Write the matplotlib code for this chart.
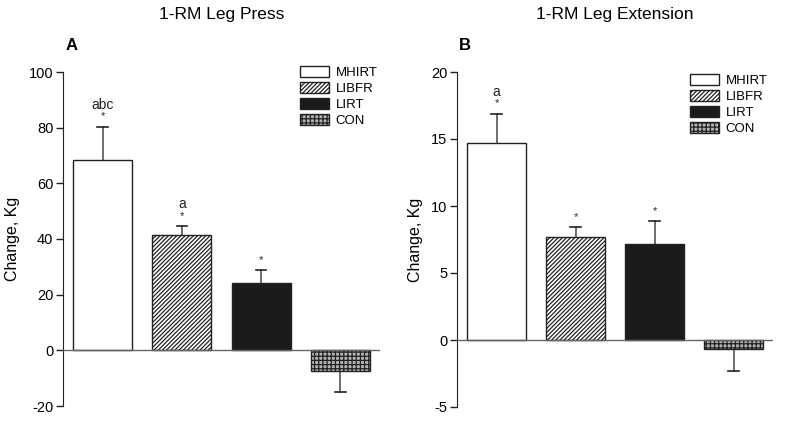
import matplotlib
matplotlib.use("Agg")
import matplotlib.pyplot as plt
from matplotlib.patches import Patch

plt.rcParams['font.family'] = ['Liberation Sans', 'DejaVu Sans']
plt.rcParams['hatch.linewidth'] = 0.9

groups = ["MHIRT", "LIBFR", "LIRT", "CON"]
press_vals = [68.4, 41.6, 24.3, -7.5]
press_err = [12.0, 3.2, 4.6, 7.3]
press_marks = [("abc", "*"), ("a", "*"), ("", "*"), ("", "")]
ext_vals = [14.7, 7.71, 7.2, -0.67]
ext_err = [2.2, 0.75, 1.65, 1.62]
ext_marks = [("a", "*"), ("", "*"), ("", "*"), ("", "")]

titles = ["1-RM Leg Press", "1-RM Leg Extension"]
panel_letters = ["A", "B"]
press_ticks = [-20, 0, 20, 40, 60, 80, 100]
ext_ticks = [-5, 0, 5, 10, 15, 20]

fills = ["white", "white", "#1b1b1b", "#b4b4b4"]
hatches = [None, "////////", None, "++++"]

W, H = 787, 425
fig = plt.figure(figsize=(W / 100, H / 100), dpi=100)

def px_axes(x0, x1, y0, y1):
    return fig.add_axes([x0 / W, 1 - y1 / H, (x1 - x0) / W, (y1 - y0) / H])

def draw(ax, vals, errs, marks, ticks, ylim):
    xs = list(range(len(groups)))
    for i, (v, e) in enumerate(zip(vals, errs)):
        ax.bar(xs[i], v, width=0.747, color=fills[i], edgecolor="#222222",
               linewidth=1.0, hatch=hatches[i], zorder=2)
        sign = 1 if v >= 0 else -1
        ax.plot([xs[i], xs[i]], [v, v + sign * e], color="#555555", lw=1.2, zorder=1)
        ax.plot([xs[i] - 0.065, xs[i] + 0.065], [v + sign * e] * 2, color="#222222", lw=1.2, zorder=1)
        top = v + sign * e
        star, letters = marks[i][1], marks[i][0]
        if star:
            ax.annotate(star, (xs[i], top), xytext=(0, 5), textcoords="offset pixels",
                        ha="center", va="bottom", fontsize=8, color="#222222")
        if letters:
            ax.annotate(letters, (xs[i], top), xytext=(0, 15), textcoords="offset pixels",
                        ha="center", va="bottom", fontsize=10, color="#222222")
    ax.axhline(0, color="#666666", lw=1.0, zorder=3)
    ax.set_xlim(-0.5, 3.5)
    ax.set_ylim(*ylim)
    ax.set_yticks(ticks)
    ax.set_yticklabels([str(t) for t in ticks], fontsize=10.5)
    ax.set_xticks([])
    for s in ["top", "right", "bottom"]:
        ax.spines[s].set_visible(False)
    ax.spines["left"].set_color("#222222")
    ax.tick_params(axis="y", direction="out", length=5, width=1, color="#222222", pad=2)
    ax.set_ylabel("Change, Kg", fontsize=11.5, labelpad=6)

ax1 = px_axes(63, 380, 72, 406)
draw(ax1, press_vals, press_err, press_marks, press_ticks, (-20, 100))
ax2 = px_axes(457, 773, 72, 407)
draw(ax2, ext_vals, ext_err, ext_marks, ext_ticks, (-5, 20))

fig.text(222 / W, 1 - 15 / H, titles[0], ha="center", va="center", fontsize=12.5)
fig.text(615 / W, 1 - 15 / H, titles[1], ha="center", va="center", fontsize=12.5)
fig.text(72 / W, 1 - 46 / H, panel_letters[0], ha="center", va="center", fontsize=12, fontweight="bold")
fig.text(465 / W, 1 - 46 / H, panel_letters[1], ha="center", va="center", fontsize=12, fontweight="bold")

def legend(ax, x, y):
    handles = [Patch(facecolor=fills[i], edgecolor="#222222", hatch=hatches[i], linewidth=1.0)
               for i in range(len(groups))]
    ax.legend(handles, groups, loc="upper left", bbox_to_anchor=(x / W, 1 - y / H),
              bbox_transform=fig.transFigure, frameon=False, fontsize=9.5,
              handlelength=2.2, handleheight=0.85, labelspacing=0.25,
              handletextpad=0.5, borderpad=0, borderaxespad=0)

legend(ax1, 300, 66)
legend(ax2, 690, 74)

fig.savefig("out.png", dpi=100)
